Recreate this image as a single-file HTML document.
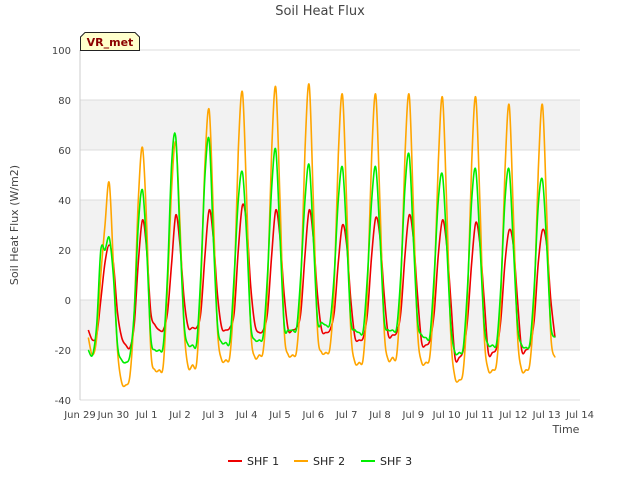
<!DOCTYPE html>
<html><head><meta charset="utf-8"><style>
body{margin:0;background:#fff;font-family:"Liberation Sans","DejaVu Sans",sans-serif}
svg text{font-family:"DejaVu Sans","Liberation Sans",sans-serif}
</style></head><body>
<svg id="c" width="640" height="480" xmlns="http://www.w3.org/2000/svg">
<rect width="640" height="480" fill="#fff"/>
<text x="320" y="15" text-anchor="middle" font-size="13" fill="#444">Soil Heat Flux</text>
<text transform="translate(18,225) rotate(-90)" text-anchor="middle" font-size="11" fill="#444">Soil Heat Flux (W/m2)</text>
<text x="566" y="433" text-anchor="middle" font-size="11" fill="#444">Time</text>
<g id="plot"></g>
<g>
<path d="M80.5,50.5 L80.5,37 L85,32.5 L135,32.5 L139.5,37 L139.5,50.5 Z" fill="#ffffcc" stroke="#222" stroke-width="1"/>
<text x="110" y="46" text-anchor="middle" font-size="11" font-weight="bold" fill="#8b0000">VR_met</text>
</g>
<g>
<line x1="228" y1="461" x2="242" y2="461" stroke="#e00" stroke-width="2"/>
<text x="247" y="465" font-size="11" fill="#222">SHF 1</text>
<line x1="294" y1="461" x2="308" y2="461" stroke="#ffa500" stroke-width="2"/>
<text x="313" y="465" font-size="11" fill="#222">SHF 2</text>
<line x1="361" y1="461" x2="375" y2="461" stroke="#0e0" stroke-width="2"/>
<text x="380" y="465" font-size="11" fill="#222">SHF 3</text>
</g>
</svg>
<script>
const xTickLabels=["Jun 29","Jun 30","Jul 1","Jul 2","Jul 3","Jul 4","Jul 5","Jul 6","Jul 7","Jul 8","Jul 9","Jul 10","Jul 11","Jul 12","Jul 13","Jul 14"];
const yTicks=[-40,-20,0,20,40,60,80,100];
const tStart=0.25, tStep=0.125;
const shf1=[-12,-16,-14,0,15,22,15,-5, -15,-18,-19,-10,15,32,20,-5, -10,-12,-12,-5,15,34,22,0, -11,-11,-11,-5,18,36,25,2, -11,-12,-11,-5,20,38,30,5, -10,-13,-12,-5,18,36,25,2, -12,-12,-11,-5,18,36,25,2, -12,-13,-12,-5,15,30,22,0, -15,-16,-15,-5,18,33,25,2, -14,-14,-13,-5,18,34,25,2, -17,-18,-16,-5,18,32,22,0, -23,-23,-20,-8,15,31,22,0, -21,-21,-19,-8,15,28,22,0, -20,-20,-18,-8,15,28,22,0, -15];
const shf2=[-15,-22,-15,10,30,47,15,-20, -33,-34,-30,-5,40,61,30,-20, -28,-28,-26,5,45,63,30,-12, -27,-26,-25,5,55,76,35,-12, -24,-24,-22,5,60,83,40,-12, -23,-22,-20,5,60,85,40,-12, -22,-22,-20,5,60,86,40,-12, -21,-21,-19,5,58,82,38,-12, -25,-25,-23,5,58,82,38,-12, -24,-23,-22,5,58,82,38,-12, -25,-25,-22,5,55,81,38,-14, -31,-32,-28,0,55,81,38,-14, -28,-28,-25,0,52,78,35,-14, -28,-28,-25,0,52,78,35,-14, -23];
const shf3=[-20,-22,-10,20,20,25,10,-18, -24,-25,-22,-5,30,44,20,-15, -20,-20,-18,10,55,65,25,-10, -18,-18,-17,10,50,64,25,-10, -17,-17,-16,10,40,51,25,-10, -16,-16,-14,10,45,60,25,-10, -12,-12,-11,10,40,54,25,-8, -9,-10,-9,10,40,53,25,-8, -12,-13,-12,10,40,53,25,-8, -12,-12,-11,10,45,58,25,-8, -14,-15,-14,10,40,50,22,-10, -21,-21,-19,5,40,52,22,-10, -18,-18,-17,5,40,52,22,-10, -18,-19,-17,5,38,48,22,-10, -15];
const L=80,R=580,T=50,B=400,yMin=-40,yMax=100,days=15;
const xS=t=>L+(R-L)*t/days;
const yS=v=>B-(B-T)*(v-yMin)/(yMax-yMin);
const NS="http://www.w3.org/2000/svg";
const g=document.getElementById('plot');
function mk(tag,attrs){const e=document.createElementNS(NS,tag);for(const k in attrs)e.setAttribute(k,attrs[k]);g.appendChild(e);return e;}
for(let i=0;i<yTicks.length-1;i++){
 if(i%2===1){const b=mk('rect',{x:L,y:yS(yTicks[i+1]),width:R-L,height:yS(yTicks[i])-yS(yTicks[i+1]),fill:'#f2f2f2'});
 
 }
}
yTicks.forEach(v=>{
 const l=mk('line',{x1:L,x2:R,y1:yS(v),y2:yS(v),stroke:'#dcdcdc','stroke-width':1});
 
 
 const t=mk('text',{x:L-9,y:yS(v)+4,'text-anchor':'end','font-size':10,fill:'#444'});t.textContent=v;
 
 
});
const ax=mk('line',{x1:L,x2:L,y1:T,y2:B,stroke:'#ccc'});


xTickLabels.forEach((s,i)=>{
 const t=mk('text',{x:xS(i),y:B+18,'text-anchor':'middle','font-size':10,fill:'#444'});t.textContent=s;
 
 
});
function line(data,color,name){
 const P=data.map((v,i)=>[xS(tStart+i*tStep),yS(v)]);
 let d='M'+P[0][0].toFixed(1)+','+P[0][1].toFixed(1);
 for(let i=0;i<P.length-1;i++){
  const p0=P[Math.max(0,i-1)],p1=P[i],p2=P[i+1],p3=P[Math.min(P.length-1,i+2)];
  const c1=[p1[0]+(p2[0]-p0[0])/6,p1[1]+(p2[1]-p0[1])/6];
  const c2=[p2[0]-(p3[0]-p1[0])/6,p2[1]-(p3[1]-p1[1])/6];
  d+=' C'+c1.map(n=>n.toFixed(1)).join(',')+' '+c2.map(n=>n.toFixed(1)).join(',')+' '+p2.map(n=>n.toFixed(1)).join(',');
 }
 const p=mk('path',{d:d,fill:'none',stroke:color,'stroke-width':1.6,'stroke-linejoin':'round'});
 
 
}
line(shf1,'#e00','series-shf1');
line(shf2,'#ffa500','series-shf2');
line(shf3,'#0e0','series-shf3');
</script>
</body></html>
